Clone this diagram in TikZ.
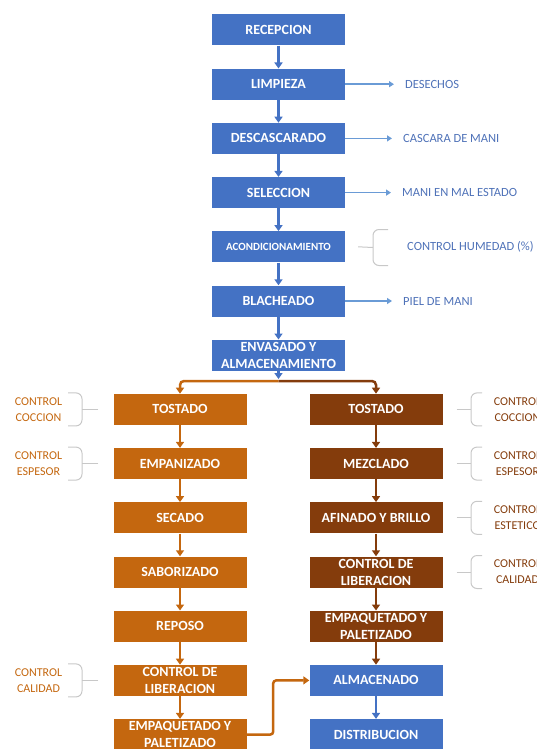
\documentclass[tikz,border=0pt]{standalone}
\usepackage{fontspec}
\setmainfont{Carlito}
\usepackage{xcolor}
\usetikzlibrary{arrows.meta}
\definecolor{customcolor1}{HTML}{4472C4}
\definecolor{customcolor2}{HTML}{C4670F}
\definecolor{customcolor3}{HTML}{843C0C}
\definecolor{customcolor4}{HTML}{6A9BD6}
\definecolor{customcolor5}{HTML}{C8C8C8}
\definecolor{customcolor6}{HTML}{4F72B8}

\begin{document}
\begin{tikzpicture}[
        box/.style = {rectangle, minimum width = 133pt, minimum height = 31pt, inner sep = 0pt, align = center, text = white, font = \fontsize{14}{17}\selectfont\bfseries},
        bluebox/.style = {box, fill = customcolor1},
        orangebox/.style = {box, fill = customcolor2},
        brownbox/.style = {box, fill = customcolor3},
        flow/.style = {-{Triangle[length = 6pt, width = 8pt]}, line width = 2.5pt},
        sidearrow/.style = {-{Triangle[length = 5pt, width = 6pt]}, line width = 1.5pt, draw = customcolor4, shorten > = 11pt},
        sidetext/.style = {anchor = west, inner sep = 0pt, text = customcolor6, font = \fontsize{12.5}{14}\selectfont},
        ctrltext/.style = {align = center, inner sep = 0pt, font = \fontsize{12}{16}\selectfont},
        ctrlbrace/.style = {draw = customcolor5, line width = 1pt, rounded corners = 6pt},
    ]

        \useasboundingbox (0pt, 0pt) rectangle (536pt, -749pt);
        \clip (0pt, 0pt) rectangle (536pt, -749pt);

        % Blue column
        \node [bluebox] (a) at (278.5pt, -30pt) {RECEPCION};
        \node [bluebox] (b) at (278.5pt, -84.2pt) {LIMPIEZA};
        \node [bluebox] (c) at (278.5pt, -138.4pt) {DESCASCARADO};
        \node [bluebox] (d) at (278.5pt, -192.6pt) {SELECCION};
        \node [bluebox, font = \fontsize{11}{13}\selectfont\bfseries] (e) at (278.5pt, -246.8pt) {ACONDICIONAMIENTO};
        \node [bluebox] (f) at (278.5pt, -301pt) {BLACHEADO};
        \node [bluebox] (g) at (278.5pt, -355.2pt) {ENVASADO Y\\ALMACENAMIENTO};
        \coordinate (g1) at (278.5pt, -381pt);

        % Left column
        \node [orangebox] (h) at (180pt, -409.4pt) {TOSTADO};
        \node [orangebox] (i) at (180pt, -463.6pt) {EMPANIZADO};
        \node [orangebox] (j) at (180pt, -517.8pt) {SECADO};
        \node [orangebox] (k) at (180pt, -572pt) {SABORIZADO};
        \node [orangebox] (l) at (180pt, -626.2pt) {REPOSO};
        \node [orangebox] (m) at (180pt, -680.4pt) {CONTROL DE\\LIBERACION};
        \node [orangebox] (n) at (180pt, -734.6pt) {EMPAQUETADO Y\\PALETIZADO};

        % Right column
        \node [brownbox] (o) at (376pt, -409.4pt) {TOSTADO};
        \node [brownbox] (p) at (376pt, -463.6pt) {MEZCLADO};
        \node [brownbox] (q) at (376pt, -517.8pt) {AFINADO Y BRILLO};
        \node [brownbox] (r) at (376pt, -572pt) {CONTROL DE\\LIBERACION};
        \node [brownbox] (s) at (376pt, -626.2pt) {EMPAQUETADO Y\\PALETIZADO};
        \node [bluebox] (t) at (376pt, -680.4pt) {ALMACENADO};
        \node [bluebox] (u) at (376pt, -734.6pt) {DISTRIBUCION};

        % Main flow
        \draw [flow, customcolor1] (a) -- (b);
        \draw [flow, customcolor1] (b) -- (c);
        \draw [flow, customcolor1] (c) -- (d);
        \draw [flow, customcolor1] (d) -- (e);
        \draw [flow, customcolor1] (e) -- (f);
        \draw [flow, customcolor1] (f) -- (g);
        \draw [flow, customcolor1, shorten > = 2pt] (g) -- (g1);
        \draw [flow, customcolor2, rounded corners = 4pt] (g1) -| (h);
        \draw [flow, customcolor3, rounded corners = 4pt] (g1) -| (o);
        \draw [flow, customcolor2] (h) -- (i);
        \draw [flow, customcolor2] (i) -- (j);
        \draw [flow, customcolor2] (j) -- (k);
        \draw [flow, customcolor2] (k) -- (l);
        \draw [flow, customcolor2] (l) -- (m);
        \draw [flow, customcolor2] (m) -- (n);
        \draw [flow, customcolor3] (o) -- (p);
        \draw [flow, customcolor3] (p) -- (q);
        \draw [flow, customcolor3] (q) -- (r);
        \draw [flow, customcolor3] (r) -- (s);
        \draw [flow, customcolor3] (s) -- (t);
        \draw [flow, customcolor1] (t) -- (u);
        \draw [flow, customcolor2, rounded corners = 3pt] (n.east) -- ++(26.5pt, 0pt) |- (t);

        % Outputs
        \node [sidetext] (b1) at (405pt, -84.2pt) {DESECHOS};
        \node [sidetext] (c1) at (403pt, -138.4pt) {CASCARA DE MANI};
        \node [sidetext] (d1) at (402pt, -192.6pt) {MANI EN MAL ESTADO};
        \node [sidetext] (f1) at (403pt, -301pt) {PIEL DE MANI};
        \draw [sidearrow] (b) -- (b1);
        \draw [sidearrow] (c) -- (c1);
        \draw [sidearrow] (d) -- (d1);
        \draw [sidearrow] (f) -- (f1);

        % Controls
        \node [sidetext] (e1) at (407pt, -246.8pt) {CONTROL HUMEDAD (\%)};
        \coordinate (e2) at (373pt, -247.5pt);
        \draw [ctrlbrace] ([xshift = 13pt] e.east) -- (e2);
        \draw [ctrlbrace] (e2) ++(15pt, 18pt) -- ++(-15pt, 0pt) -- ++(0pt, -36pt) -- ++(15pt, 0pt);

        \node [ctrltext, text = customcolor2] (h1) at (38.5pt, -409.4pt) {CONTROL\\COCCION};
        \node [ctrltext, text = customcolor2] (i1) at (38.5pt, -463.6pt) {CONTROL\\ESPESOR};
        \node [ctrltext, text = customcolor2] (m1) at (38.5pt, -680.4pt) {CONTROL\\CALIDAD};
        \coordinate (h2) at (82pt, -409.4pt);
        \coordinate (i2) at (82pt, -463.6pt);
        \coordinate (m2) at (82pt, -680.4pt);
        \draw [ctrlbrace] ([xshift = -15pt] h.west) -- (h2);
        \draw [ctrlbrace] ([xshift = -15pt] i.west) -- (i2);
        \draw [ctrlbrace] ([xshift = -15pt] m.west) -- (m2);
        \draw [ctrlbrace] (h2) ++(-14pt, 16.5pt) -- ++(14pt, 0pt) -- ++(0pt, -33pt) -- ++(-14pt, 0pt);
        \draw [ctrlbrace] (i2) ++(-14pt, 16.5pt) -- ++(14pt, 0pt) -- ++(0pt, -33pt) -- ++(-14pt, 0pt);
        \draw [ctrlbrace] (m2) ++(-14pt, 16.5pt) -- ++(14pt, 0pt) -- ++(0pt, -33pt) -- ++(-14pt, 0pt);

        \node [ctrltext, text = customcolor3] (o1) at (517.5pt, -409.4pt) {CONTROL\\COCCION};
        \node [ctrltext, text = customcolor3] (p1) at (517.5pt, -463.6pt) {CONTROL\\ESPESOR};
        \node [ctrltext, text = customcolor3] (q1) at (517.5pt, -517.8pt) {CONTROL\\ESTETICO};
        \node [ctrltext, text = customcolor3] (r1) at (517.5pt, -572pt) {CONTROL\\CALIDAD};
        \coordinate (o2) at (471pt, -409.4pt);
        \coordinate (p2) at (471pt, -463.6pt);
        \coordinate (q2) at (471pt, -517.8pt);
        \coordinate (r2) at (471pt, -572pt);
        \draw [ctrlbrace] ([xshift = 14pt] o.east) -- (o2);
        \draw [ctrlbrace] ([xshift = 14pt] p.east) -- (p2);
        \draw [ctrlbrace] ([xshift = 14pt] q.east) -- (q2);
        \draw [ctrlbrace] ([xshift = 14pt] r.east) -- (r2);
        \draw [ctrlbrace] (o2) ++(11pt, 16.5pt) -- ++(-11pt, 0pt) -- ++(0pt, -33pt) -- ++(11pt, 0pt);
        \draw [ctrlbrace] (p2) ++(11pt, 16.5pt) -- ++(-11pt, 0pt) -- ++(0pt, -33pt) -- ++(11pt, 0pt);
        \draw [ctrlbrace] (q2) ++(11pt, 16.5pt) -- ++(-11pt, 0pt) -- ++(0pt, -33pt) -- ++(11pt, 0pt);
        \draw [ctrlbrace] (r2) ++(11pt, 16.5pt) -- ++(-11pt, 0pt) -- ++(0pt, -33pt) -- ++(11pt, 0pt);

    \end{tikzpicture}
\end{document}
